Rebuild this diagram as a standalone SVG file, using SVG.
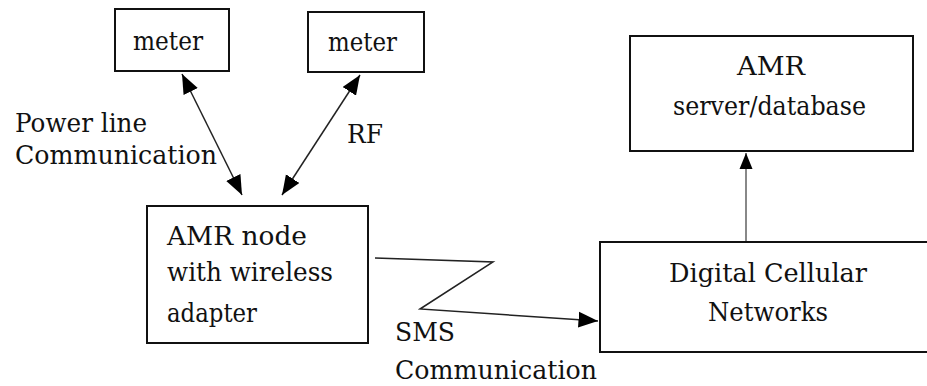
<svg xmlns="http://www.w3.org/2000/svg" width="927" height="386" viewBox="0 0 927 386">
<defs>
<style>
.box{fill:#fff;stroke:#111;stroke-width:2}
.t{font-family:"DejaVu Serif",serif;font-size:26px;fill:#111}
.ln{stroke:#222;stroke-width:1.5;fill:none}
</style>
<marker id="ah" viewBox="0 0 16 13" refX="16" refY="6.5" markerWidth="13" markerHeight="11" orient="auto-start-reverse">
<path d="M0,0 L16,6.5 L0,13 Z" fill="#000"/>
</marker>
<marker id="ah2" viewBox="0 0 16 13" refX="16" refY="6.5" markerWidth="8" markerHeight="7" orient="auto">
<path d="M0,0 L16,6.5 L0,13 Z" fill="#000"/>
</marker>
</defs>
<rect width="927" height="386" fill="#fff"/>
<g id="connectors">
<line class="ln" x1="182" y1="74" x2="242" y2="195" marker-start="url(#ah)" marker-end="url(#ah)"/>
<line class="ln" x1="360" y1="75" x2="282" y2="195" marker-start="url(#ah)" marker-end="url(#ah)"/>
<polyline class="ln" points="375,258 493,262 420,309 598,321" marker-end="url(#ah)"/>
<line x1="746" y1="242" x2="746" y2="153" stroke="#888" stroke-width="2" marker-end="url(#ah2)"/>
</g>
<g id="meter1">
<rect class="box" x="115" y="9" width="114" height="62"/>
<text class="t" x="133" y="50" textLength="70" lengthAdjust="spacingAndGlyphs">meter</text>
</g>
<g id="meter2">
<rect class="box" x="308" y="12" width="116" height="60"/>
<text class="t" x="328" y="51" textLength="69" lengthAdjust="spacingAndGlyphs">meter</text>
</g>
<g id="amr-node">
<rect class="box" x="147" y="206" width="221" height="137"/>
<text class="t" x="167" y="245" textLength="140" lengthAdjust="spacingAndGlyphs">AMR node</text>
<text class="t" x="167" y="281" textLength="166" lengthAdjust="spacingAndGlyphs">with wireless</text>
<text class="t" x="167" y="322" textLength="90" lengthAdjust="spacingAndGlyphs">adapter</text>
</g>
<g id="amr-server">
<rect class="box" x="630" y="36" width="283" height="115"/>
<text class="t" x="737" y="75" textLength="68" lengthAdjust="spacingAndGlyphs">AMR</text>
<text class="t" x="673" y="115" textLength="193" lengthAdjust="spacingAndGlyphs">server/database</text>
</g>
<g id="digital-cellular">
<rect class="box" x="600" y="242" width="340" height="110"/>
<text class="t" x="669" y="282" textLength="198" lengthAdjust="spacingAndGlyphs">Digital Cellular</text>
<text class="t" x="708" y="321" textLength="120" lengthAdjust="spacingAndGlyphs">Networks</text>
</g>
<g id="labels">
<text class="t" x="15" y="132" textLength="132" lengthAdjust="spacingAndGlyphs">Power line</text>
<text class="t" x="15" y="164" textLength="202" lengthAdjust="spacingAndGlyphs">Communication</text>
<text class="t" x="347" y="143" textLength="36" lengthAdjust="spacingAndGlyphs">RF</text>
<text class="t" x="395" y="341" textLength="60" lengthAdjust="spacingAndGlyphs">SMS</text>
<text class="t" x="395" y="379" textLength="202" lengthAdjust="spacingAndGlyphs">Communication</text>
</g>
</svg>
